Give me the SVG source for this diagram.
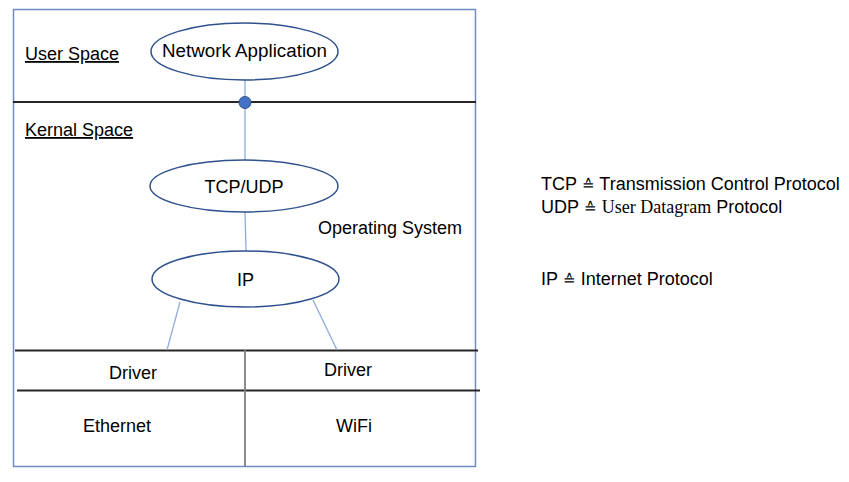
<svg xmlns="http://www.w3.org/2000/svg" width="849" height="482" viewBox="0 0 849 482">
<style>
.t{font-family:"Liberation Sans",Arial,sans-serif;font-size:18px;fill:#000}
.m{text-anchor:middle}
.u{text-decoration:underline}
.s{font-family:"Liberation Serif","Times New Roman",serif}
.q{font-size:15px}
.ell{fill:#fff;stroke:#2F528F;stroke-width:1.5}
.con{stroke:#8FAADC;stroke-width:1.3;fill:none}
.div{stroke:#262626;stroke-width:1.8}
</style>
<rect width="849" height="482" fill="#fff"/>
<g id="frame">
<rect x="13.5" y="9.5" width="462" height="457" fill="none" stroke="#6F8BC2" stroke-width="1.5"/>
<line class="div" x1="13" y1="102" x2="476" y2="102"/>
<line class="div" x1="15" y1="350.5" x2="478" y2="350.5"/>
<line class="div" x1="17" y1="390.5" x2="480" y2="390.5"/>
<line x1="245" y1="350" x2="245" y2="467" stroke="#7F7F7F" stroke-width="1.8"/>
</g>
<g id="connectors">
<line class="con" x1="245" y1="80" x2="245" y2="160"/>
<line class="con" x1="245" y1="212" x2="246" y2="251"/>
<line class="con" x1="180" y1="302" x2="167" y2="350"/>
<line class="con" x1="313" y1="300" x2="337" y2="350"/>
<circle cx="245" cy="102.5" r="6" fill="#4472C4" stroke="#2F528F" stroke-width="1"/>
</g>
<g id="labels">
<text class="t u" x="25" y="60">User Space</text>
<text class="t u" x="25" y="136">Kernal Space</text>
<text class="t" x="318" y="234">Operating System</text>
</g>
<g id="network-application">
<ellipse class="ell" cx="244.5" cy="51.5" rx="93.5" ry="28.5"/>
<text class="t m" x="244.5" y="57" style="font-size:18.8px">Network Application</text>
</g>
<g id="tcp-udp">
<ellipse class="ell" cx="244" cy="186" rx="94" ry="26"/>
<text class="t m" x="244" y="192.5">TCP/UDP</text>
</g>
<g id="ip">
<ellipse class="ell" cx="245.5" cy="279" rx="93.5" ry="28"/>
<text class="t m" x="245.5" y="285.5">IP</text>
</g>
<g id="driver-1"><text class="t m" x="133" y="379">Driver</text></g>
<g id="driver-2"><text class="t m" x="348" y="376">Driver</text></g>
<g id="ethernet"><text class="t m" x="117" y="432">Ethernet</text></g>
<g id="wifi"><text class="t m" x="354" y="432">WiFi</text></g>
<g id="legend">
<text class="t" x="541" y="190">TCP <tspan class="q">≙</tspan> Transmission Control Protocol</text>
<text class="t" x="541" y="213">UDP <tspan class="q">≙</tspan> <tspan class="s">User Datagram</tspan> Protocol</text>
<text class="t" x="541" y="285">IP <tspan class="q">≙</tspan> Internet Protocol</text>
</g>
</svg>
